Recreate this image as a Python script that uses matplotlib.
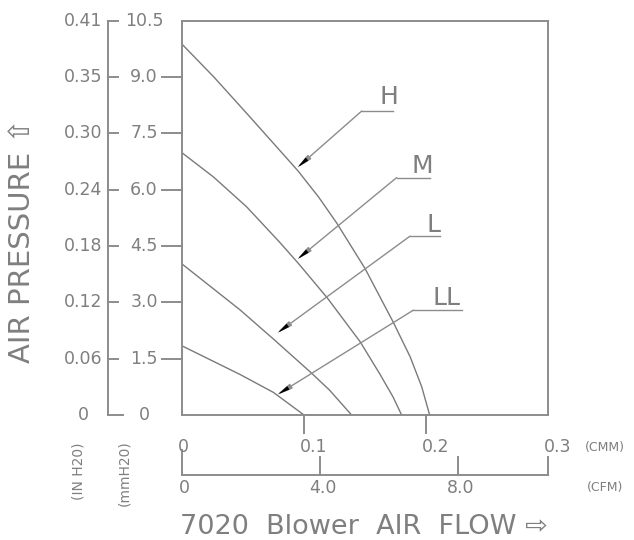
import matplotlib
matplotlib.use("Agg")
import matplotlib.pyplot as plt

# fan curves: flow in CMM, pressure in mmH2O
h_flow = [0, 0.026, 0.053, 0.075, 0.095, 0.112, 0.127, 0.150, 0.173, 0.187, 0.1965, 0.203]
h_press = [9.87, 9.00, 8.03, 7.23, 6.50, 5.80, 5.10, 3.90, 2.48, 1.55, 0.75, 0]
m_flow = [0, 0.026, 0.053, 0.080, 0.095, 0.119, 0.146, 0.162, 0.173, 0.180]
m_press = [6.98, 6.33, 5.54, 4.60, 4.05, 3.12, 1.95, 1.10, 0.48, 0]
l_flow = [0, 0.0475, 0.075, 0.106, 0.121, 0.139]
l_press = [4.02, 2.80, 2.02, 1.12, 0.66, 0]
ll_flow = [0, 0.0475, 0.075, 0.100]
ll_press = [1.84, 1.08, 0.60, 0]

curve_names = ["H", "M", "L", "LL"]
# leader: arrow tip on curve, elbow, end of the shelf under the name
leader_tip = [(0.094, 6.57), (0.094, 4.13), (0.0776, 2.17), (0.0776, 0.53)]
leader_elbow = [(0.1473, 8.09), (0.176, 6.32), (0.1869, 4.76), (0.1896, 2.79)]
leader_end_x = [0.1732, 0.2033, 0.2115, 0.2293]
name_pos = [(0.1694, 8.28), (0.1971, 6.45), (0.206, 4.88), (0.217, 2.93)]

mm_ticks = [0, 1.5, 3.0, 4.5, 6.0, 7.5, 9.0, 10.5]
mm_labels = ["0", "1.5", "3.0", "4.5", "6.0", "7.5", "9.0", "10.5"]
inh2o_labels = ["0", "0.06", "0.12", "0.18", "0.24", "0.30", "0.35", "0.41"]
cmm_ticks = [0, 0.1, 0.2, 0.3]
cmm_labels = ["0", "0.1", "0.2", "0.3"]
cfm_ticks = [0, 4.0, 8.0]
cfm_labels = ["0", "4.0", "8.0"]
CFM_PER_CMM = 35.315

LINE = "#7a7a7a"
FRAME = "#8c8c8c"
TXT = "#7f7f7f"

fig = plt.figure(figsize=(6.34, 5.4), dpi=100)
fig.patch.set_facecolor("white")
# plot box sits at pixels x 182..548, y 20..415
ax = fig.add_axes([182 / 634, 125 / 540, 366 / 634, 394.5 / 540])
ax.set_xlim(0, 0.3)
ax.set_ylim(0, 10.5)
ax.set_xticks([])
ax.set_yticks([])
for s in ax.spines.values():
    s.set_color(FRAME)
    s.set_linewidth(1.4)

def fx(px):
    return (px - 182) / 366.0

def fy(py):
    return (415 - py) / 394.5

for fl, pr in [(h_flow, h_press), (m_flow, m_press), (l_flow, l_press), (ll_flow, ll_press)]:
    ax.plot(fl, pr, color=LINE, lw=1.0)

for name, tip, elb, xe, npos in zip(curve_names, leader_tip, leader_elbow, leader_end_x, name_pos):
    ax.plot([elb[0], xe], [elb[1], elb[1]], color=FRAME, lw=1.0)
    ax.annotate("", xy=tip, xytext=elb,
                arrowprops=dict(arrowstyle="-|>,head_length=0.9,head_width=0.15",
                                color=FRAME, lw=1.0, shrinkA=0, shrinkB=0,
                                mutation_scale=10))
    ax.annotate("", xy=tip, xytext=elb,
                arrowprops=dict(arrowstyle="-|>,head_length=0.9,head_width=0.15",
                                fc="black", ec="black", lw=0.3, shrinkA=0, shrinkB=0,
                                mutation_scale=10, linestyle="none"))
    ax.text(npos[0], npos[1], name, ha="center", va="baseline", fontsize=18, color=TXT)

# left pressure scales
ty = ax.get_yaxis_transform()
ax.plot([fx(108), fx(108)], [0, 10.5], transform=ty, color=FRAME, lw=1.4, clip_on=False)
for v, lab_mm, lab_in in zip(mm_ticks, mm_labels, inh2o_labels):
    x_end = 123 if v == 0 else 118
    ax.plot([fx(108), fx(x_end)], [v, v], transform=ty, color=FRAME, lw=1.4, clip_on=False)
    if 0 < v < 10.5:
        ax.plot([fx(162), 0], [v, v], transform=ty, color=FRAME, lw=1.4, clip_on=False)
    ax.text(fx(144), v, lab_mm, transform=ty, ha="center", va="center", fontsize=12.5, color=TXT)
    ax.text(fx(83), v, lab_in, transform=ty, ha="center", va="center", fontsize=12.5, color=TXT)

ax.text(fx(22), fy(241), "AIR PRESSURE \u21e7", transform=ax.transAxes, rotation=90,
        ha="center", va="center", fontsize=21, color=TXT)
ax.text(fx(78), fy(471), "(IN H20)", transform=ax.transAxes, rotation=90,
        ha="center", va="center", fontsize=10, color=TXT)
ax.text(fx(124), fy(473), "(mmH20)", transform=ax.transAxes, rotation=90,
        ha="center", va="center", fontsize=10, color=TXT)

# bottom flow scales
tx = ax.get_xaxis_transform()
for v in cmm_ticks[1:3]:
    ax.plot([v, v], [0, fy(433)], transform=tx, color=FRAME, lw=1.4, clip_on=False)
for v, lab in zip(cmm_ticks, cmm_labels):
    ax.text(v - 0.0035, fy(447), lab, transform=tx, ha="left", va="center", fontsize=12.5, color=TXT)
ax.text(0.3467, fy(447), "(CMM)", transform=tx, ha="center", va="center", fontsize=9, color=TXT)

ax.plot([0, 0.3], [fy(475), fy(475)], transform=tx, color=FRAME, lw=1.4, clip_on=False)
cfm_pos = [c / CFM_PER_CMM for c in cfm_ticks] + [0.3]
for i, p in enumerate(cfm_pos):
    top = fy(450) if i == 0 else fy(457)
    ax.plot([p, p], [fy(475), top], transform=tx, color=FRAME, lw=1.4, clip_on=False)
for c, lab in zip(cfm_ticks, cfm_labels):
    ax.text(c / CFM_PER_CMM + 0.002, fy(488), lab, transform=tx, ha="center", va="center",
            fontsize=12.5, color=TXT)
ax.text(0.3467, fy(488), "(CFM)", transform=tx, ha="center", va="center", fontsize=9, color=TXT)

ax.text(fx(180), fy(527), "7020  Blower  AIR  FLOW \u21e8", transform=ax.transAxes,
        ha="left", va="center", fontsize=19.5, color=TXT)

fig.savefig("out.png", dpi=100, facecolor="white")
